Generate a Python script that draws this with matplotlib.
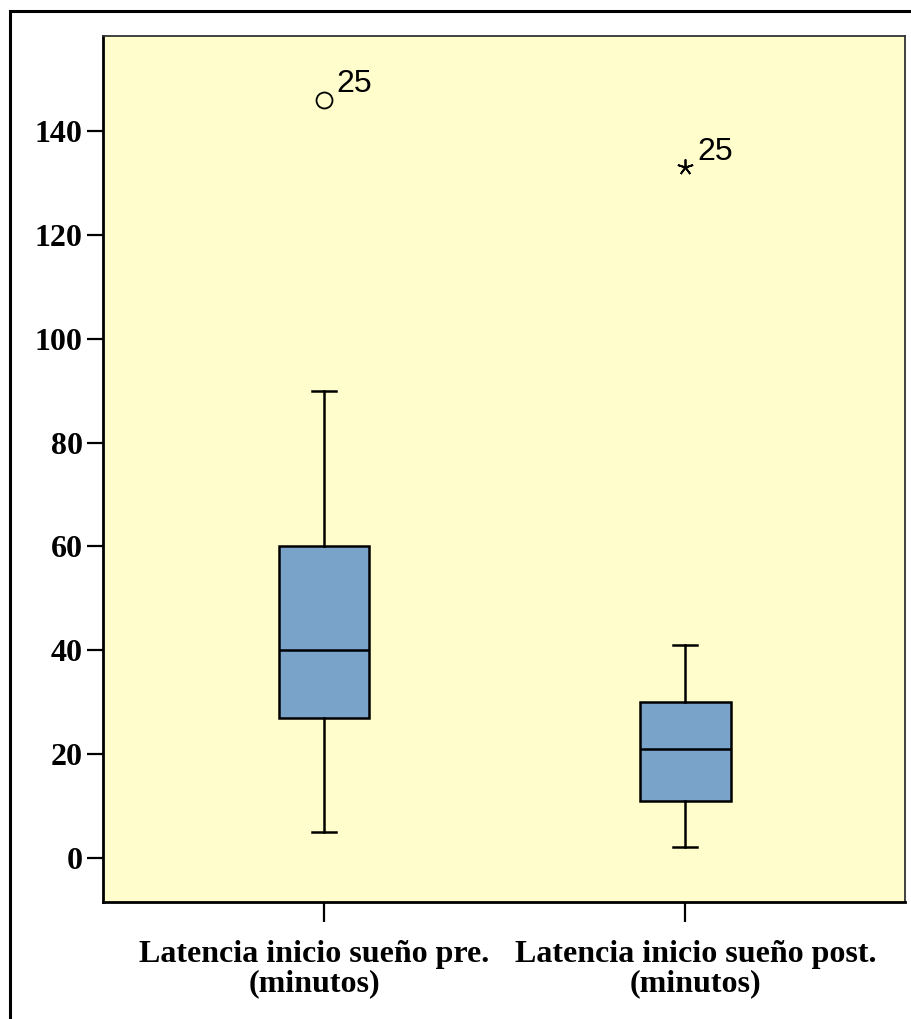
import matplotlib
matplotlib.use("Agg")
import matplotlib.pyplot as plt
from matplotlib.patches import Rectangle
from matplotlib.transforms import ScaledTranslation

# Datos (minutos)
etiquetas = ["Latencia inicio sueño pre.\n(minutos)", "Latencia inicio sueño post.\n(minutos)"]
q1 = [27, 11]
medianas = [40, 21]
q3 = [60, 30]
bigote_inf = [5, 2]
bigote_sup = [90, 41]
atipicos = [[146], [133]]
id_atipicos = ["25", "25"]
marcas_atipicos = ["o", (5, 2, 0)]

fig = plt.figure(figsize=(9.11, 10.19), dpi=100)
W, H = 911, 1019

# Marco exterior (se sale por la derecha y por abajo)
fig.patches.append(Rectangle((10 / W, -0.1), 1.2, 1.1 - 11 / H, transform=fig.transFigure,
                             fill=False, edgecolor="black", linewidth=2.2))

ax = fig.add_axes([103 / W, 1 - 902 / H, (905 - 103) / W, (902 - 36) / H])
ax.set_facecolor("#FFFDCB")

stats = []
for i in range(len(etiquetas)):
    stats.append({
        "med": medianas[i], "q1": q1[i], "q3": q3[i],
        "whislo": bigote_inf[i], "whishi": bigote_sup[i], "fliers": [],
    })

pos = [1, 2]
lw = 1.8
ax.bxp(stats, positions=pos, widths=0.25, capwidths=0.066, patch_artist=True,
       showfliers=False,
       boxprops=dict(facecolor="#79A3C9", edgecolor="black", linewidth=lw),
       medianprops=dict(color="black", linewidth=lw),
       whiskerprops=dict(color="black", linewidth=lw),
       capprops=dict(color="black", linewidth=lw))

for p, vals, ident, mk in zip(pos, atipicos, id_atipicos, marcas_atipicos):
    ax.plot([p] * len(vals), vals, linestyle="none", marker=mk, markersize=11.5,
            markerfacecolor="none", markeredgecolor="black", markeredgewidth=1.3)
    for v in vals:
        ax.annotate(ident, (p, v), xytext=(9, 5.5), textcoords="offset points",
                    ha="left", va="baseline", fontsize=23, family="Liberation Sans")

ax.set_xlim(0.388, 2.608)
ax.set_ylim(-8.5, 158.3)
ax.set_yticks(range(0, 141, 20))
ax.set_xticks(pos)
ax.set_xticklabels([])

# etiquetas de categoría, algo desplazadas como en el original
for p, txt, dx in zip(pos, etiquetas, [-10, 10]):
    tr = ax.get_xaxis_transform() + ScaledTranslation(dx / 100, -38 / 100, fig.dpi_scale_trans)
    ax.text(p, 0, txt, transform=tr, ha="center", va="top", multialignment="center",
            family="Liberation Serif", fontweight="bold", fontsize=23, linespacing=1.0)

for lbl in ax.get_yticklabels():
    lbl.set_family("Liberation Serif")
    lbl.set_fontweight("bold")
    lbl.set_fontsize(23)

ax.tick_params(axis="y", length=11.5, width=1.6, pad=3)
ax.tick_params(axis="x", length=14.5, width=1.6)

for lado in ["left", "bottom"]:
    ax.spines[lado].set_linewidth(2.0)
    ax.spines[lado].set_color("black")
for lado in ["top", "right"]:
    ax.spines[lado].set_linewidth(1.3)
    ax.spines[lado].set_color("#333333")

fig.savefig("out.png", dpi=100)
